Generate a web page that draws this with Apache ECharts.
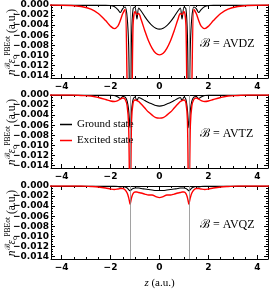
<!DOCTYPE html>
<html><head><meta charset="utf-8">
<script src="https://cdn.jsdelivr.net/npm/echarts@6/dist/echarts.min.js"></script>
<style>html,body{margin:0;padding:0;background:#fff}#c{width:269px;height:291px}</style>
</head><body><div id="c"></div>
<script>
const zGrid = [-4.5,-3.6,-3.2,-2.8,-2.5,-2.2,-2.0,-1.85,-1.7,-1.6,-1.5,-1.4,-1.32,-1.26,-1.22,-1.2,-1.18,-1.14,-1.08,-1.0,-0.92,-0.85,-0.75,-0.6,-0.45,-0.3,-0.15,0,0.15,0.3,0.45,0.6,0.75,0.85,0.92,1.0,1.08,1.14,1.18,1.2,1.22,1.26,1.32,1.4,1.5,1.6,1.7,1.85,2.0,2.2,2.5,2.8,3.2,3.6,4.5];

const avdzGround = [0,0,0,0,0,0,-0.0001,-0.0003,-0.0009,-0.0015,-0.0007,-0.0004,-0.0025,-0.008,-0.02,-0.024,-0.02,-0.006,-0.0008,-0.0004,-0.0028,-0.0006,-0.0012,-0.0023,-0.0033,-0.0041,-0.0046,
  -0.0048,
  -0.0046,-0.0041,-0.0033,-0.0023,-0.0012,-0.0006,-0.0028,-0.0004,-0.0008,-0.006,-0.02,-0.024,-0.02,-0.008,-0.0025,-0.0004,-0.0007,-0.0015,-0.0009,-0.0003,-0.0001,0,0,0,0,0,0];
const avdzExcited = [0,-0.0001,-0.0003,-0.0008,-0.0017,-0.0031,-0.0042,-0.0047,-0.0042,-0.0031,-0.0017,-0.0009,-0.016,-0.028,-0.03,-0.03,-0.03,-0.028,-0.004,-0.0013,-0.0019,-0.0017,-0.0029,-0.0051,-0.0071,-0.0086,-0.0096,
  -0.0099,
  -0.0096,-0.0086,-0.0071,-0.0051,-0.0029,-0.0017,-0.0019,-0.0013,-0.004,-0.028,-0.03,-0.03,-0.03,-0.028,-0.016,-0.0009,-0.0017,-0.0031,-0.0042,-0.0047,-0.0042,-0.0031,-0.0017,-0.0008,-0.0003,-0.0001,0];

const avtzGround = [0,0,0,0,0,0,0,-0.0001,-0.0004,-0.0007,-0.0003,-0.0004,-0.0012,-0.003,-0.0055,-0.0065,-0.0055,-0.003,-0.0009,-0.0004,-0.0011,-0.0005,-0.0007,-0.0011,-0.0015,-0.0018,-0.0021,
  -0.0022,
  -0.0021,-0.0018,-0.0015,-0.0011,-0.0007,-0.0005,-0.0011,-0.0004,-0.0009,-0.003,-0.0055,-0.0065,-0.0055,-0.003,-0.0012,-0.0004,-0.0003,-0.0007,-0.0004,-0.0001,0,0,0,0,0,0,0];
const avtzExcited = [0,0,-0.0001,-0.0002,-0.0005,-0.0009,-0.0012,-0.0013,-0.0011,-0.0008,-0.0006,-0.0009,-0.0022,-0.006,-0.02,-0.026,-0.02,-0.005,-0.0016,-0.001,-0.0011,-0.0013,-0.0018,-0.0026,-0.0034,-0.004,-0.0045,
  -0.0046,
  -0.0045,-0.004,-0.0034,-0.0026,-0.0018,-0.0013,-0.0011,-0.001,-0.0016,-0.005,-0.02,-0.026,-0.02,-0.006,-0.0022,-0.0009,-0.0006,-0.0008,-0.0011,-0.0013,-0.0012,-0.0009,-0.0005,-0.0002,-0.0001,0,0];

const avqzGround = [0,0,0,0,0,0,0,0,-0.0001,-0.0002,-0.0001,-0.0002,-0.0004,-0.0007,-0.0009,-0.001,-0.0009,-0.0007,-0.0005,-0.0004,-0.0004,-0.0004,-0.0005,-0.0006,-0.0007,-0.0008,-0.0009,
  -0.0009,
  -0.0009,-0.0008,-0.0007,-0.0006,-0.0005,-0.0004,-0.0004,-0.0004,-0.0005,-0.0007,-0.0009,-0.001,-0.0009,-0.0007,-0.0004,-0.0002,-0.0001,-0.0002,-0.0001,0,0,0,0,0,0,0,0];
const avqzExcited = [0,0,0,-0.0001,-0.0002,-0.0004,-0.0006,-0.0007,-0.0006,-0.0005,-0.0005,-0.0008,-0.0014,-0.0023,-0.0032,-0.0036,-0.0032,-0.0023,-0.0015,-0.0012,-0.0012,-0.0013,-0.0014,-0.0016,-0.0018,-0.0018,-0.0021,
  -0.0023,
  -0.0021,-0.0018,-0.0018,-0.0016,-0.0014,-0.0013,-0.0012,-0.0012,-0.0015,-0.0023,-0.0032,-0.0036,-0.0032,-0.0023,-0.0014,-0.0008,-0.0005,-0.0005,-0.0006,-0.0007,-0.0006,-0.0004,-0.0002,-0.0001,0,0,0];

const basisNames = ['AVDZ','AVTZ','AVQZ'];
const seriesNames = ['Ground state','Excited state'];
const nucleiZ = [-1.2, 1.2];
const xMajorTicks = [-4,-2,0,2,4];
const xMinorTicks = [-3.5,-3,-2.5,-1.5,-1,-0.5,0.5,1,1.5,2.5,3,3.5];
const yMajorTicks = [0,-0.002,-0.004,-0.006,-0.008,-0.010,-0.012,-0.014];
const yMinorTicks = [-0.0005,-0.001,-0.0015,-0.0025,-0.003,-0.0035,-0.0045,-0.005,-0.0055,-0.0065,-0.007,-0.0075,-0.0085,-0.009,-0.0095,-0.0105,-0.011,-0.0115,-0.0125,-0.013,-0.0135];

const groundSets = [avdzGround, avtzGround, avqzGround];
const excitedSets = [avdzExcited, avtzExcited, avqzExcited];

const X_MIN = -4.43, X_MAX = 4.43, Y_MIN = -0.0145, Y_MAX = 0;
const gridTops = [5, 95, 186];
const gridH = 73;
const minus = v => v < 0 ? '\u2212' + (-v) : String(v);
const labelFont = {fontSize: 9, fontWeight: 'bold', color: '#000', fontFamily: 'DejaVu Sans'};
const serif = '"Liberation Serif", "DejaVu Serif", serif';

const grids = [], xAxes = [], yAxes = [], series = [], graphics = [];
gridTops.forEach((top, i) => {
  grids.push({left: 51, right: 1, top: top, height: gridH});
  const last = i === gridTops.length - 1;
  const xBase = {gridIndex: i, type: 'value', min: X_MIN, max: X_MAX, splitLine: {show: false}};
  const yBase = {gridIndex: i, type: 'value', min: Y_MIN, max: Y_MAX, splitLine: {show: false}};
  xAxes.push(Object.assign({}, xBase, {
    position: 'bottom',
    axisLine: {show: true, onZero: false, lineStyle: {color: '#000', width: 1}},
    axisTick: {show: true, inside: true, length: 4, customValues: xMajorTicks, lineStyle: {color: '#000', width: 1}},
    axisLabel: Object.assign({show: true, margin: 4, customValues: xMajorTicks, formatter: v => minus(v)}, labelFont),
    name: last ? '{i|z} (a.u.)' : '',
    nameLocation: 'middle', nameGap: 19,
    nameTextStyle: {fontFamily: 'Liberation Serif', fontSize: 11, color: '#000', rich: {i: {fontFamily: 'Liberation Serif', fontSize: 11, fontStyle: 'italic', color: '#000'}}}
  }));
  xAxes.push(Object.assign({}, xBase, {
    position: 'bottom',
    axisLine: {show: false, onZero: false},
    axisTick: {show: true, inside: true, length: 2, customValues: xMinorTicks, lineStyle: {color: '#000', width: 1}},
    axisLabel: {show: false}
  }));
  xAxes.push(Object.assign({}, xBase, {
    position: 'top',
    axisLine: {show: true, onZero: false, lineStyle: {color: '#000', width: 1}},
    axisTick: {show: true, inside: true, length: 4, customValues: xMajorTicks, lineStyle: {color: '#000', width: 1}},
    axisLabel: {show: false}
  }));
  xAxes.push(Object.assign({}, xBase, {
    position: 'top',
    axisLine: {show: false, onZero: false},
    axisTick: {show: true, inside: true, length: 2, customValues: xMinorTicks, lineStyle: {color: '#000', width: 1}},
    axisLabel: {show: false}
  }));
  yAxes.push(Object.assign({}, yBase, {
    position: 'left',
    axisLine: {show: true, onZero: false, lineStyle: {color: '#000', width: 1}},
    axisTick: {show: true, inside: true, length: 4, customValues: yMajorTicks, lineStyle: {color: '#000', width: 1}},
    axisLabel: Object.assign({show: true, margin: 2, customValues: yMajorTicks, formatter: v => (v < 0 ? '\u2212' : '') + Math.abs(v).toFixed(3)}, labelFont)
  }));
  yAxes.push(Object.assign({}, yBase, {
    position: 'left',
    axisLine: {show: false, onZero: false},
    axisTick: {show: true, inside: true, length: 2, customValues: yMinorTicks, lineStyle: {color: '#000', width: 1}},
    axisLabel: {show: false}
  }));
  yAxes.push(Object.assign({}, yBase, {
    position: 'right',
    axisLine: {show: true, onZero: false, lineStyle: {color: '#000', width: 1}},
    axisTick: {show: true, inside: true, length: 4, customValues: yMajorTicks, lineStyle: {color: '#000', width: 1}},
    axisLabel: {show: false}
  }));
  yAxes.push(Object.assign({}, yBase, {
    position: 'right',
    axisLine: {show: false, onZero: false},
    axisTick: {show: true, inside: true, length: 2, customValues: yMinorTicks, lineStyle: {color: '#000', width: 1}},
    axisLabel: {show: false}
  }));

  const xi = i * 4, yi = i * 4;
  series.push({
    name: seriesNames[0], type: 'line', xAxisIndex: xi, yAxisIndex: yi,
    data: zGrid.map((z, k) => [z, groundSets[i][k]]),
    symbol: 'none', smooth: 0.3, clip: true, color: '#000',
    lineStyle: {color: '#000', width: 1.1},
    markLine: {
      silent: true, symbol: ['none', 'none'], label: {show: false},
      lineStyle: {color: '#8a8a8a', width: 0.8, type: 'solid'},
      data: nucleiZ.map(z => ({xAxis: z}))
    },
    z: 2
  });
  series.push({
    name: seriesNames[1], type: 'line', xAxisIndex: xi, yAxisIndex: yi,
    data: zGrid.map((z, k) => [z, excitedSets[i][k]]),
    symbol: 'none', smooth: 0.3, clip: true, color: '#ff0000',
    lineStyle: {color: '#ff0000', width: 1.4},
    z: 3
  });
  graphics.push({
    type: 'text', left: 200, top: top + 33,
    style: {text: '\u212C = ' + basisNames[i], font: '12px ' + serif, fill: '#000'}
  });
  graphics.push({
    type: 'text', x: 12, y: top + 37, rotation: Math.PI / 2,
    style: {
      text: '{it|n}{sup|\u212C}{it|\u03B5}{sub|c}{sup|PBEot}{n| (a.u.)}',
      align: 'center', verticalAlign: 'middle', fill: '#000',
      font: '11px ' + serif,
      rich: {
        it: {fontFamily: 'Liberation Serif', fontSize: 11.5, fontStyle: 'italic', fill: '#000'},
        n: {fontFamily: 'Liberation Serif', fontSize: 11.5, fill: '#000'},
        sup: {fontFamily: 'Liberation Serif', fontSize: 7.5, fill: '#000', padding: [0, 0, 7, 0]},
        sub: {fontFamily: 'Liberation Serif', fontSize: 7.5, fill: '#000', padding: [6, 0, 0, 0]}
      }
    }
  });
});

const chart = echarts.init(document.getElementById('c'), null, {renderer: 'canvas'});
chart.setOption({
  animation: false,
  backgroundColor: '#fff',
  grid: grids,
  xAxis: xAxes,
  yAxis: yAxes,
  series: series,
  graphic: graphics,
  legend: {
    data: seriesNames, orient: 'vertical', left: 55, top: 114,
    icon: 'rect', itemWidth: 12, itemHeight: 1.5, itemGap: 5,
    textStyle: {fontFamily: 'Liberation Serif', fontSize: 11, color: '#000'}
  }
});
</script></body></html>
